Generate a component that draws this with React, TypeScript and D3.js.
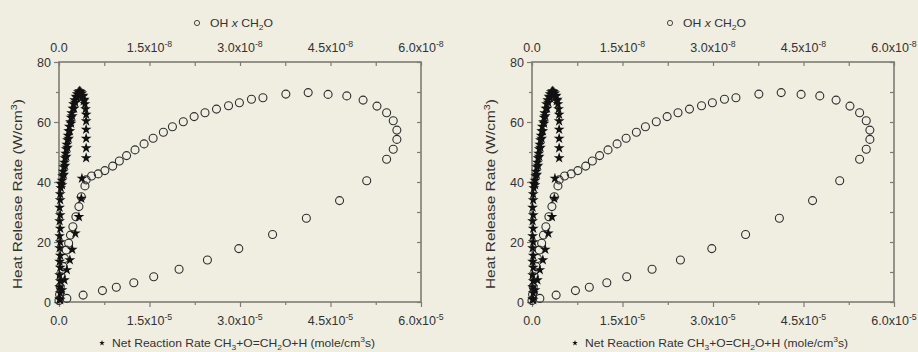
import * as d3 from "d3";
import { useRef, useEffect } from "react";

// x axis ticks (same numbers on both x axes, different exponents)
const xMajor = [0, 1.5, 3, 4.5, 6];
const xMinor = [0.75, 2.25, 3.75, 5.25];
const xTickLabels = ["0.0", "1.5x10", "3.0x10", "4.5x10", "6.0x10"];
const topExp = "-8";
const bottomExp = "-5";
const yMajor = [0, 20, 40, 60, 80];
const yMinor = [10, 30, 50, 70];

// OH x CH2O (units of 1e-8) vs heat release rate (W/cm3)
const ohCh2o = [
  0.13, 0.4, 0.72, 0.95, 1.24, 1.57, 1.99, 2.46, 2.98, 3.54, 4.1, 4.65, 5.1,
  5.43, 5.54, 5.6, 5.6, 5.54, 5.43, 5.27, 5.04, 4.77, 4.46, 4.13, 3.76, 3.38,
  3.19, 2.99, 2.81, 2.61, 2.42, 2.24, 2.06, 1.88, 1.73, 1.56, 1.41, 1.26, 1.12,
  1.0, 0.89, 0.76, 0.65, 0.54, 0.45, 0.43, 0.37, 0.33, 0.28, 0.23, 0.19, 0.16,
  0.12, 0.09, 0.07, 0.04, 0.02, 0.01, 0.0,
];
const ohHrr = [
  1.2, 2.3, 3.8, 4.9, 6.4, 8.4, 10.9, 14, 17.8, 22.5, 27.9, 33.8, 40.4, 47.6,
  50.9, 54.2, 57.3, 60.4, 63.1, 65.3, 67.3, 68.7, 69.2, 69.8, 69.3, 68.1, 67.6,
  66.4, 65.4, 64.3, 63.1, 61.8, 60.1, 58.4, 56.6, 54.6, 52.7, 50.7, 48.8, 47,
  45.3, 43.8, 42.7, 42, 40.7, 38.7, 35.1, 31.8, 28.4, 25.1, 22.3, 19.6, 17.3,
  14.5, 11.8, 8.4, 5.1, 2.5, 0.5,
];

// net reaction rate CH3+O=CH2O+H (units of 1e-5) vs heat release rate
const netRate = [
  0.01, 0.02, 0.01, 0.02, 0.01, 0.02, 0.01, 0.02, 0.01, 0.02, 0.01, 0.02, 0.01,
  0.02, 0.01, 0.02, 0.02, 0.03, 0.03, 0.05, 0.06, 0.07, 0.08, 0.09, 0.1, 0.11,
  0.12, 0.13, 0.14, 0.15, 0.16, 0.17, 0.19, 0.2, 0.21, 0.23, 0.24, 0.26, 0.28,
  0.3, 0.32, 0.34, 0.36, 0.38, 0.4, 0.42, 0.43, 0.44, 0.45, 0.45, 0.45, 0.45,
  0.45, 0.45, 0.38, 0.05, 0.08, 0.1, 0.12, 0.14, 0.16, 0.18, 0.2, 0.22, 0.25,
  0.27, 0.3, 0.33, 0.36, 0.39, 0.41, 0.37, 0.33, 0.27, 0.22, 0.18, 0.13, 0.09,
  0.05, 0.02,
];
const netHrr = [
  1, 3, 5, 7, 9, 11.5, 13.5, 15.5, 18, 20, 22, 24.5, 27, 29, 31.5, 34, 36, 38,
  39.5, 40.5, 42, 43.5, 45, 46.5, 48, 49.5, 51, 52.5, 54, 55.5, 57, 58.5, 60,
  61.5, 63, 64.5, 66, 67.3, 68.5, 69.3, 70, 70.3, 70.1, 69.6, 68.8, 67.5, 66,
  64.3, 62.5, 60.3, 57.5, 54.5, 51.3, 48, 41.2, 39, 42.5, 45.5, 48.5, 51.5,
  54.5, 57, 59.5, 62, 64.5, 66.5, 68, 69.2, 69.5, 68.5, 67, 34.5, 28.4, 22.9,
  17.5, 14, 10.7, 7.3, 4, 0.7,
];

const panels = [0, 473];

const App = () => {
  const container = useRef(null);

  useEffect(() => {
    const W = 918;
    const H = 352;
    const plot = { l: 59, r: 421, t: 62, b: 302 };
    const bg = "#efeee1";
    const axisColor = "#7c7c74";
    const textColor = "#333";
    const font = "'Liberation Sans', Arial, sans-serif";

    const svg = d3
      .select(container.current)
      .selectAll("svg")
      .data([0])
      .join("svg")
      .attr("width", W)
      .attr("height", H)
      .style("display", "block")
      .style("font-family", font);
    svg.selectAll("*").remove();

    svg.append("rect").attr("width", W).attr("height", H).attr("fill", bg);

    const xScale = d3.scaleLinear().domain([0, 6]).range([plot.l, plot.r]);
    const yScale = d3.scaleLinear().domain([0, 80]).range([plot.b, plot.t]);

    // rich text: parts with sub / sup / italic, the next part undoes the shift
    const rich = (sel, parts, size) => {
      let shift = 0;
      parts.forEach((p) => {
        const sp = sel.append("tspan").text(p.t);
        let target = 0;
        if (p.s === "sub") target = size * 0.3;
        if (p.s === "sup") target = -size * 0.42;
        if (target !== shift) sp.attr("dy", target - shift);
        shift = target;
        if (p.s === "sub" || p.s === "sup") sp.attr("font-size", size * 0.7);
        if (p.s === "i") sp.attr("font-style", "italic");
      });
    };

    const star = d3.symbol().type(d3.symbolStar).size(36);

    panels.forEach((offset) => {
      const g = svg.append("g").attr("transform", `translate(${offset},0)`);

      const styleAxis = (a) => {
        a.select(".domain").remove();
        a.selectAll("line").attr("stroke", axisColor).attr("stroke-width", 1.2);
      };

      g.append("g")
        .attr("transform", `translate(0,${plot.b})`)
        .call(d3.axisBottom(xScale).tickValues(xMajor).tickSize(5).tickFormat(() => ""))
        .call(styleAxis);
      g.append("g")
        .attr("transform", `translate(0,${plot.b})`)
        .call(d3.axisBottom(xScale).tickValues(xMinor).tickSize(3).tickFormat(() => ""))
        .call(styleAxis);
      g.append("g")
        .attr("transform", `translate(0,${plot.t})`)
        .call(
          d3.axisTop(xScale).tickValues(xMajor.concat(xMinor)).tickSize(-4).tickFormat(() => "")
        )
        .call(styleAxis);
      g.append("g")
        .attr("transform", `translate(${plot.l},0)`)
        .call(d3.axisLeft(yScale).tickValues(yMajor).tickSize(5).tickFormat(() => ""))
        .call(styleAxis);
      g.append("g")
        .attr("transform", `translate(${plot.l},0)`)
        .call(d3.axisLeft(yScale).tickValues(yMinor).tickSize(3).tickFormat(() => ""))
        .call(styleAxis);
      g.append("g")
        .attr("transform", `translate(${plot.r},0)`)
        .call(
          d3.axisRight(yScale).tickValues(yMajor.concat(yMinor)).tickSize(-4).tickFormat(() => "")
        )
        .call(styleAxis);

      g.append("rect")
        .attr("x", plot.l)
        .attr("y", plot.t)
        .attr("width", plot.r - plot.l)
        .attr("height", plot.b - plot.t)
        .attr("fill", "none")
        .attr("stroke", axisColor)
        .attr("stroke-width", 1.6);

      // tick labels
      const tickSize = 12.5;
      [
        { y: plot.t - 10, exp: topExp },
        { y: plot.b + 23, exp: bottomExp },
      ].forEach((row) => {
        xMajor.forEach((v, i) => {
          const t = g
            .append("text")
            .attr("x", xScale(v))
            .attr("y", row.y)
            .attr("text-anchor", "middle")
            .attr("font-size", tickSize)
            .attr("fill", textColor);
          if (i === 0) rich(t, [{ t: xTickLabels[i] }], tickSize);
          else rich(t, [{ t: xTickLabels[i] }, { t: row.exp, s: "sup" }], tickSize);
        });
      });
      yMajor.forEach((v) => {
        g.append("text")
          .attr("x", plot.l - 8)
          .attr("y", yScale(v))
          .attr("dy", "0.36em")
          .attr("text-anchor", "end")
          .attr("font-size", tickSize)
          .attr("fill", textColor)
          .text(v);
      });

      // y title
      const yt = g
        .append("text")
        .attr("transform", `translate(22,194) rotate(-90)`)
        .attr("text-anchor", "middle")
        .attr("font-size", 12)
        .attr("textLength", 190)
        .attr("lengthAdjust", "spacingAndGlyphs")
        .attr("fill", textColor);
      rich(yt, [{ t: "Heat Release Rate (W/cm" }, { t: "3", s: "sup" }, { t: ")" }], 12);

      // top legend
      g.append("circle")
        .attr("cx", 197)
        .attr("cy", 23)
        .attr("r", 2.6)
        .attr("fill", "none")
        .attr("stroke", textColor)
        .attr("stroke-width", 0.9);
      const tl = g
        .append("text")
        .attr("x", 210)
        .attr("y", 27)
        .attr("font-size", 11)
        .attr("textLength", 63)
        .attr("lengthAdjust", "spacingAndGlyphs")
        .attr("fill", textColor);
      rich(tl, [{ t: "OH " }, { t: "x", s: "i" }, { t: " CH" }, { t: "2", s: "sub" }, { t: "O" }], 11);

      // bottom legend
      g.append("path")
        .attr("d", d3.symbol().type(d3.symbolStar).size(10)())
        .attr("transform", `translate(102,343)`)
        .attr("fill", "#111");
      const bl = g
        .append("text")
        .attr("x", 112)
        .attr("y", 347)
        .attr("font-size", 11.5)
        .attr("textLength", 263)
        .attr("lengthAdjust", "spacingAndGlyphs")
        .attr("fill", textColor);
      rich(
        bl,
        [
          { t: "Net Reaction Rate CH" },
          { t: "3", s: "sub" },
          { t: "+O=CH" },
          { t: "2", s: "sub" },
          { t: "O+H (mole/cm" },
          { t: "3", s: "sup" },
          { t: "s)" },
        ],
        11.5
      );

      // data
      g.append("g")
        .selectAll("circle")
        .data(ohCh2o.map((v, i) => [v, ohHrr[i]]))
        .join("circle")
        .attr("cx", (d) => xScale(d[0]))
        .attr("cy", (d) => yScale(d[1]))
        .attr("r", 4)
        .attr("fill", "none")
        .attr("stroke", "#2e2e2e")
        .attr("stroke-width", 1.1);

      g.append("g")
        .selectAll("path")
        .data(netRate.map((v, i) => [v, netHrr[i]]))
        .join("path")
        .attr("d", star())
        .attr("transform", (d) => `translate(${xScale(d[0])},${yScale(d[1])})`)
        .attr("fill", "#111");
    });
  });

  return <div ref={container} style={{ position: "absolute", left: 0, top: 0 }}></div>;
};

export default App;
